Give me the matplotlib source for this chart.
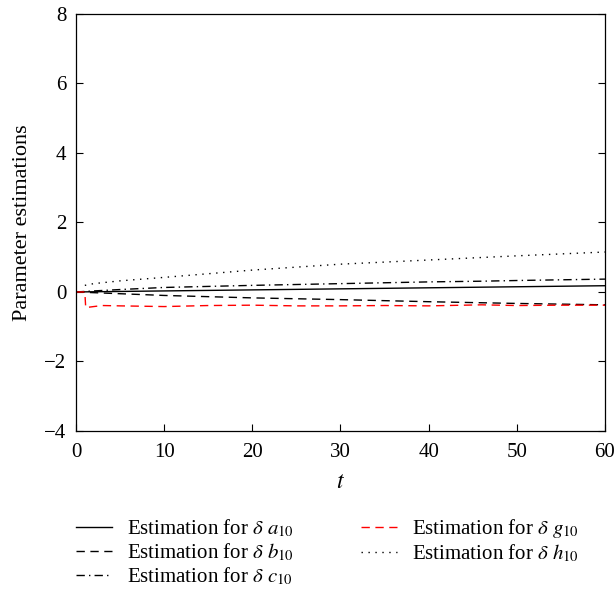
import numpy as np
import matplotlib
matplotlib.use('Agg')
import matplotlib.pyplot as plt

plt.rcParams['font.family'] = ['Liberation Serif', 'DejaVu Serif']
plt.rcParams['mathtext.fontset'] = 'stix'

# values (t, estimate)
t_a = [0, 10, 20, 30, 40, 50, 60]
est_a = [0.0, 0.03, 0.06, 0.09, 0.12, 0.15, 0.18]

t_b = [0, 2, 5, 10, 20, 30, 40, 46, 50, 60]
est_b = [0.0, -0.02, -0.05, -0.10, -0.17, -0.22, -0.28, -0.31, -0.33, -0.37]

t_c = [0, 2, 5, 10, 20, 30, 40, 46, 50, 60]
est_c = [0.0, 0.03, 0.07, 0.13, 0.19, 0.24, 0.29, 0.31, 0.33, 0.37]

t_g = [0, 1.0, 1.1, 2, 3, 5, 10, 15, 20, 25, 30, 35, 40, 46, 50, 55, 60]
est_g = [0.0, 0.0, -0.45, -0.42, -0.39, -0.40, -0.42, -0.39, -0.38, -0.40, -0.40,
         -0.39, -0.40, -0.37, -0.39, -0.38, -0.38]

t_h = [1.0, 2, 5, 10, 20, 30, 40, 50, 60]
est_h = [0.19, 0.24, 0.32, 0.42, 0.63, 0.80, 0.92, 1.04, 1.15]

labels = [r'Estimation for $\delta$ $a_{10}$', r'Estimation for $\delta$ $b_{10}$',
          r'Estimation for $\delta$ $c_{10}$', r'Estimation for $\delta$ $g_{10}$',
          r'Estimation for $\delta$ $h_{10}$']

fig = plt.figure(figsize=(6.14, 5.92), dpi=100)
ax = fig.add_axes([0.1238, 0.272, 0.8615, 0.7044])

ax.plot(t_a, est_a, color='black', lw=1.0, ls='-', label=labels[0])
ax.plot(t_b, est_b, color='black', lw=1.0, ls=(0, (6, 4)), label=labels[1])
ax.plot(t_c, est_c, color='black', lw=1.0, ls=(0, (6, 3, 1, 3)), label=labels[2])
ax.plot(t_g, est_g, color='#ff0000', lw=1.0, ls=(0, (6, 4)), label=labels[3])
ax.plot(t_h, est_h, color='black', lw=1.0, ls=(0, (1, 4)), label=labels[4])

ax.set_xlim(0, 60)
ax.set_ylim(-4, 8)
ax.set_xticks([0, 10, 20, 30, 40, 50, 60])
ax.set_yticks([-4, -2, 0, 2, 4, 6, 8])
ax.set_yticklabels(['\u22124', '\u22122', '0', '2', '4', '6', '8'])
ax.tick_params(direction='in', length=5, width=0.8, labelsize=15, right=True)
ax.tick_params(axis='x', pad=9)
ax.tick_params(axis='y', pad=7)
for s in ax.spines.values():
    s.set_linewidth(0.9)

ax.set_xlabel('$t$', fontsize=17, labelpad=7)
ax.set_ylabel('Parameter estimations', fontsize=16, labelpad=9)

fig.legend(loc='upper left', bbox_to_anchor=(0.1238, 0.127), ncol=2, frameon=False,
           fontsize=15, handlelength=1.75, handletextpad=0.7, columnspacing=3.2,
           labelspacing=0.12, borderaxespad=0, borderpad=0)

fig.savefig('out.png', dpi=100)
